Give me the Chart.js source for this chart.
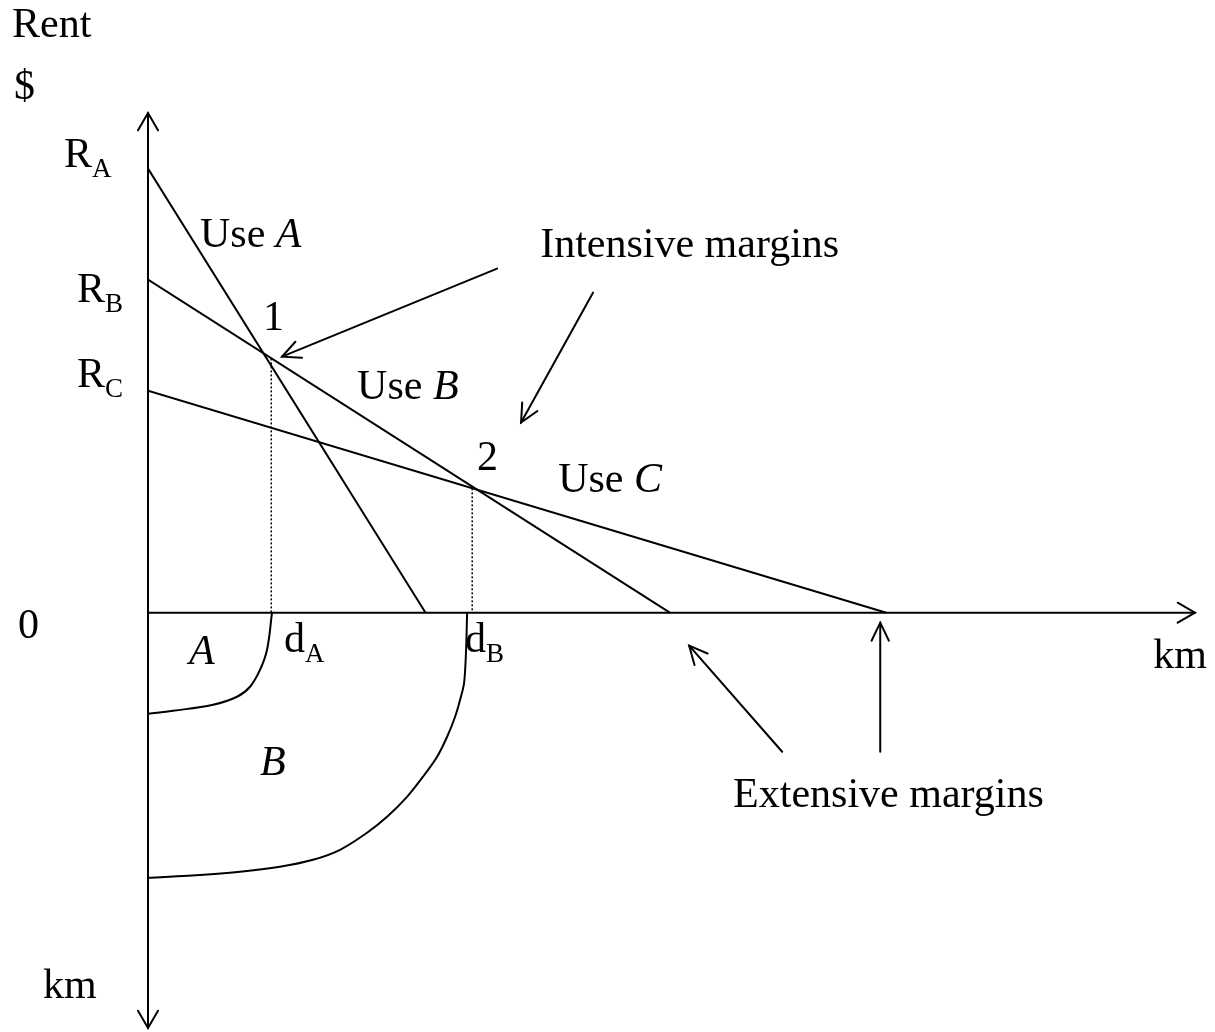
<!DOCTYPE html>
<html>
<head>
    <title>Bid rent</title>
    <script src="https://cdn.jsdelivr.net/npm/chart.js"></script>
    <style>
        body { margin: 0; background: white; }
    </style>
</head>
<body>
    <canvas id="rentChart" width="1215" height="1032"></canvas>
    <script>
        // Bid-rent lines: rent at the centre and distance where rent hits zero
        const useNames = ['A', 'B', 'C'];
        const rentAtCentre = [4.0, 3.0, 2.0];
        const zeroRentDistance = [2.5, 4.7, 6.65];

        // Intensive margins (points 1 and 2) -> d_A, d_B
        const marginDistance = [1.11, 2.92];
        const marginRent = [2.29, 1.12];

        // Land-use boundaries drawn in the lower (map) half, km x km
        const boundaryAx = [1.117, 1.072, 1.009, 0.919, 0.802, 0.586, 0.225, 0];
        const boundaryAy = [0, -0.333, -0.514, -0.667, -0.757, -0.829, -0.883, -0.910];
        const boundaryBx = [2.874, 2.865, 2.847, 2.811, 2.766, 2.694, 2.604, 2.477, 2.333, 2.153, 1.973, 1.730, 1.486, 1.189, 0.829, 0.360, 0];
        const boundaryBy = [0, -0.333, -0.631, -0.784, -0.937, -1.117, -1.297, -1.477, -1.658, -1.838, -1.982, -2.135, -2.225, -2.288, -2.333, -2.369, -2.387];

        const xMax = 9.43;
        const yMax = 4.5;
        const yMin = -3.74;

        const FONT = '"Liberation Serif", "Times New Roman", serif';

        // text annotations (data coords, left / baseline). parts: [text, style]
        const labels = [
            { x: -1.225, y: 5.18, parts: [['Rent', 'n']] },
            { x: -1.207, y: 4.622, parts: [['$', 'n']] },
            { x: -0.757, y: 4.018, parts: [['R', 'n'], ['A', 'sub']] },
            { x: -0.640, y: 2.802, parts: [['R', 'n'], ['B', 'sub']] },
            { x: -0.640, y: 2.036, parts: [['R', 'n'], ['C', 'sub']] },
            { x: -1.171, y: -0.225, parts: [['0', 'n']] },
            { x: 0.468, y: 3.297, parts: [['Use ', 'n'], ['A', 'i']] },
            { x: 1.036, y: 2.55, parts: [['1', 'n']] },
            { x: 1.883, y: 1.928, parts: [['Use ', 'n'], ['B', 'i']] },
            { x: 2.964, y: 1.288, parts: [['2', 'n']] },
            { x: 3.694, y: 1.09, parts: [['Use ', 'n'], ['C', 'i']] },
            { x: 3.532, y: 3.207, parts: [['Intensive margins', 'n']] },
            { x: 1.225, y: -0.351, parts: [['d', 'n'], ['A', 'sub']] },
            { x: 2.856, y: -0.351, parts: [['d', 'n'], ['B', 'sub']] },
            { x: 0.369, y: -0.459, parts: [['A', 'i']] },
            { x: 1.009, y: -1.459, parts: [['B', 'i']] },
            { x: 9.054, y: -0.495, parts: [['km', 'n']] },
            { x: 5.27, y: -1.748, parts: [['Extensive margins', 'n']] },
            { x: -0.946, y: -3.468, parts: [['km', 'n']] }
        ];

        // pointer arrows: from -> to (tip)
        const pointers = [
            [3.144, 3.099, 1.207, 2.306],
            [4.009, 2.883, 3.360, 1.712],
            [5.712, -1.252, 4.874, -0.297],
            [6.595, -1.252, 6.595, -0.09]
        ];

        function arrowHead(ctx, x0, y0, x1, y1, len, ang) {
            const a = Math.atan2(y1 - y0, x1 - x0);
            ctx.beginPath();
            ctx.moveTo(x1 - len * Math.cos(a - ang), y1 - len * Math.sin(a - ang));
            ctx.lineTo(x1, y1);
            ctx.lineTo(x1 - len * Math.cos(a + ang), y1 - len * Math.sin(a + ang));
            ctx.stroke();
        }

        const diagramPlugin = {
            id: 'diagram',
            afterDatasetsDraw(chart) {
                const ctx = chart.ctx;
                const xs = chart.scales.x, ys = chart.scales.y;
                const px = v => xs.getPixelForValue(v);
                const py = v => ys.getPixelForValue(v);
                ctx.save();
                ctx.strokeStyle = '#000';
                ctx.lineWidth = 2;
                ctx.lineCap = 'round';

                // axes
                ctx.beginPath();
                ctx.moveTo(px(0), py(0));
                ctx.lineTo(px(xMax), py(0));
                ctx.moveTo(px(0), py(yMax));
                ctx.lineTo(px(0), py(yMin));
                ctx.stroke();
                arrowHead(ctx, px(0), py(0), px(xMax), py(0), 20, Math.PI / 6);
                arrowHead(ctx, px(0), py(0), px(0), py(yMax), 20, Math.PI / 6);
                arrowHead(ctx, px(0), py(0), px(0), py(yMin), 20, Math.PI / 6);

                // pointer arrows
                pointers.forEach(p => {
                    ctx.beginPath();
                    ctx.moveTo(px(p[0]), py(p[1]));
                    ctx.lineTo(px(p[2]), py(p[3]));
                    ctx.stroke();
                    arrowHead(ctx, px(p[0]), py(p[1]), px(p[2]), py(p[3]), 20, Math.PI / 7);
                });

                // labels
                ctx.fillStyle = '#000';
                ctx.textBaseline = 'alphabetic';
                ctx.textAlign = 'left';
                labels.forEach(l => {
                    let x = px(l.x);
                    const y = py(l.y);
                    l.parts.forEach(([t, s]) => {
                        if (s === 'sub') {
                            ctx.font = '27px ' + FONT;
                            ctx.fillText(t, x, y + 10);
                        } else {
                            ctx.font = (s === 'i' ? 'italic ' : '') + '42px ' + FONT;
                            ctx.fillText(t, x, y);
                        }
                        x += ctx.measureText(t).width;
                    });
                });
                ctx.restore();
            }
        };

        const datasets = [];
        useNames.forEach((name, i) => {
            datasets.push({
                label: 'Use ' + name,
                data: [{ x: 0, y: rentAtCentre[i] }, { x: zeroRentDistance[i], y: 0 }],
                borderColor: '#000',
                borderWidth: 2,
                pointRadius: 0
            });
        });
        marginDistance.forEach((d, i) => {
            datasets.push({
                label: 'd' + useNames[i],
                data: [{ x: d, y: marginRent[i] }, { x: d, y: 0 }],
                borderColor: '#000',
                borderWidth: 1.5,
                borderDash: [2, 2],
                pointRadius: 0
            });
        });
        datasets.push({
            label: 'Boundary A',
            data: boundaryAx.map((x, i) => ({ x: x, y: boundaryAy[i] })),
            borderColor: '#000',
            borderWidth: 2,
            pointRadius: 0,
            tension: 0.4
        });
        datasets.push({
            label: 'Boundary B',
            data: boundaryBx.map((x, i) => ({ x: x, y: boundaryBy[i] })),
            borderColor: '#000',
            borderWidth: 2,
            pointRadius: 0,
            tension: 0.3
        });

        new Chart(document.getElementById('rentChart').getContext('2d'), {
            type: 'line',
            data: { datasets: datasets },
            options: {
                responsive: false,
                animation: false,
                layout: { padding: { left: 148, right: 20, top: 113, bottom: 4 } },
                plugins: { legend: { display: false }, tooltip: { enabled: false } },
                scales: {
                    x: { type: 'linear', min: 0, max: xMax, display: false },
                    y: { type: 'linear', min: yMin, max: yMax, display: false }
                }
            },
            plugins: [diagramPlugin]
        });
    </script>
</body>
</html>
